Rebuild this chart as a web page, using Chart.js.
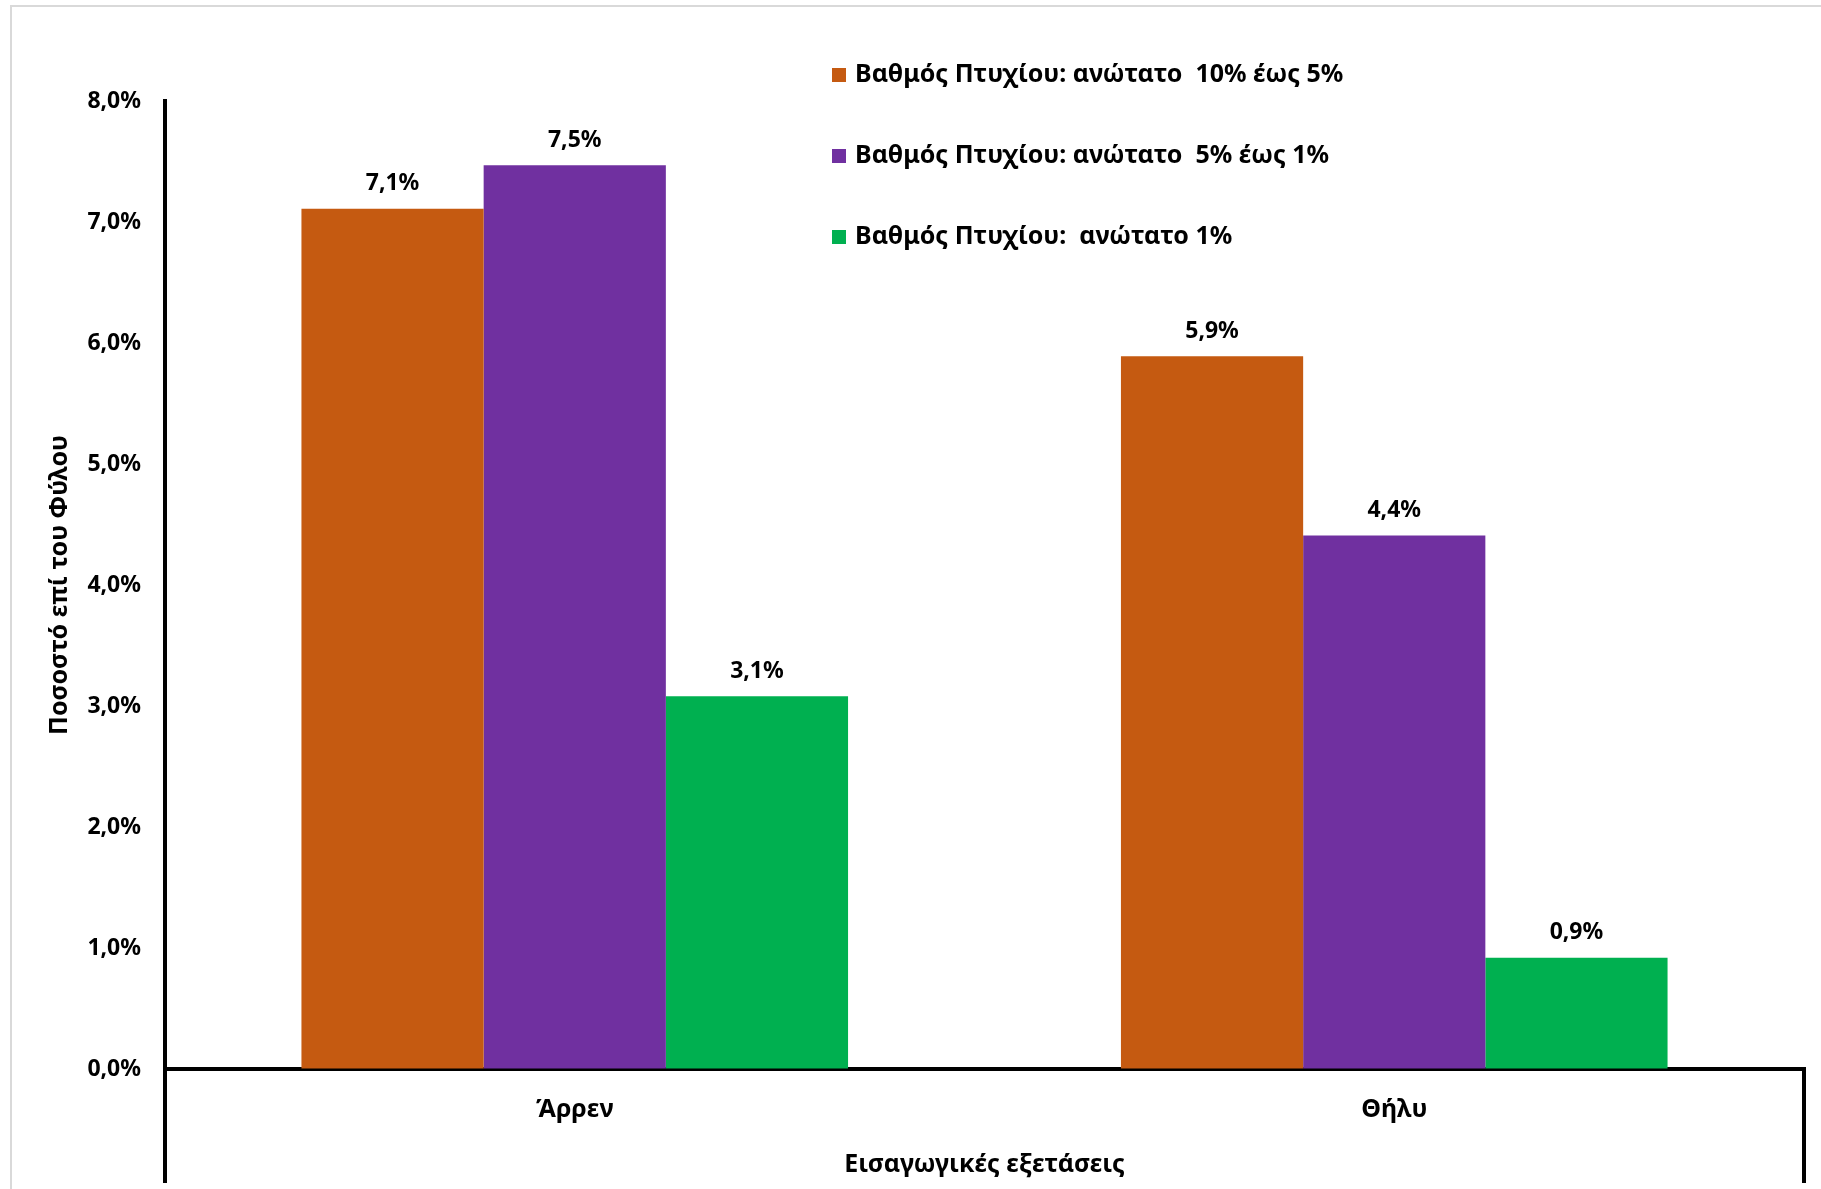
<!DOCTYPE html>
<html>
<head>
<meta charset="utf-8">
<script src="https://cdn.jsdelivr.net/npm/chart.js@4/dist/chart.umd.min.js"></script>
<style>
  html, body { margin: 0; padding: 0; background: #fff; }
  #wrap { width: 1821px; height: 1189px; position: relative; }
</style>
</head>
<body>
<div id="wrap"><canvas id="chart"></canvas></div>
<script>
const categories = ['Άρρεν', 'Θήλυ'];
const seriesNames = [
    'Βαθμός Πτυχίου: ανώτατο  10% έως 5%',
    'Βαθμός Πτυχίου: ανώτατο  5% έως 1%',
    'Βαθμός Πτυχίου:  ανώτατο 1%'
];
const top10to5 = [0.0711, 0.0589];
const top5to1 = [0.0747, 0.0441];
const top1 = [0.0308, 0.0092];
const seriesColors = ['#C55A11', '#7030A0', '#00B050'];

const FONT = '"Noto Sans", "Open Sans", sans-serif';
const pct = v => (v * 100).toFixed(1).replace('.', ',') + '%';

// gray frame round the chart, like the office export
const framePlugin = {
    id: 'frame',
    beforeDraw(chart) {
        const c = chart.ctx;
        c.save();
        c.strokeStyle = '#d9d9d9';
        c.lineWidth = 2;
        c.beginPath();
        c.moveTo(11, chart.height);
        c.lineTo(11, 6);
        c.lineTo(chart.width, 6);
        c.stroke();
        c.restore();
    }
};

// value labels over each bar
const valueLabels = {
    id: 'valueLabels',
    afterDatasetsDraw(chart) {
        const c = chart.ctx;
        c.save();
        c.font = 'bold 23px ' + FONT;
        c.fillStyle = '#000';
        c.textAlign = 'center';
        c.textBaseline = 'middle';
        chart.data.datasets.forEach((ds, i) => {
            chart.getDatasetMeta(i).data.forEach((bar, j) => {
                c.fillText(pct(ds.data[j]), bar.x, bar.y - 25);
            });
        });
        c.restore();
    }
};

// legend stacked vertically inside the plot, plus the category-axis dividers
const sideLegend = {
    id: 'sideLegend',
    afterDraw(chart) {
        const c = chart.ctx;
        const a = chart.chartArea;
        c.save();
        c.font = 'bold 25px ' + FONT;
        c.textBaseline = 'middle';
        c.textAlign = 'left';
        chart.data.datasets.forEach((ds, i) => {
            const y = 75 + i * 81;
            c.fillStyle = ds.backgroundColor;
            c.fillRect(832, y - 7, 14, 14);
            c.fillStyle = '#000';
            c.fillText(ds.label, 855, y);
        });
        c.strokeStyle = '#000';
        c.lineWidth = 4;
        c.beginPath();
        c.moveTo(a.left, a.bottom);
        c.lineTo(a.left, 1183);
        c.moveTo(a.right, a.bottom - 2);
        c.lineTo(a.right, 1183);
        c.stroke();
        c.restore();
    }
};

new Chart(document.getElementById('chart'), {
    type: 'bar',
    data: {
        labels: categories,
        datasets: [
            { label: seriesNames[0], data: top10to5, backgroundColor: seriesColors[0] },
            { label: seriesNames[1], data: top5to1, backgroundColor: seriesColors[1] },
            { label: seriesNames[2], data: top1, backgroundColor: seriesColors[2] }
        ]
    },
    options: {
        responsive: true,
        maintainAspectRatio: false,
        animation: false,
        layout: { padding: { top: 101, right: 17, left: 0, bottom: 0 } },
        datasets: { bar: { categoryPercentage: 0.667, barPercentage: 1 } },
        plugins: {
            legend: { display: false },
            tooltip: { enabled: false }
        },
        scales: {
            y: {
                min: 0,
                max: 0.08,
                afterFit(s) { s.width = 165; },
                grid: { drawOnChartArea: false, drawTicks: false },
                border: { color: '#000', width: 4 },
                ticks: {
                    stepSize: 0.01,
                    padding: 24,
                    color: '#000',
                    font: { family: FONT, size: 23, weight: 'bold' },
                    callback: v => pct(v)
                },
                title: {
                    display: true,
                    text: 'Ποσοστό επί του Φύλου',
                    color: '#000',
                    font: { family: FONT, size: 25, weight: 'bold' },
                    padding: { top: 45, bottom: 0 }
                }
            },
            x: {
                afterFit(s) { s.height = 120; },
                grid: { drawOnChartArea: false, drawTicks: false },
                border: { color: '#000', width: 4 },
                ticks: {
                    padding: 26,
                    color: '#000',
                    font: { family: FONT, size: 25, weight: 'bold' }
                },
                title: {
                    display: true,
                    text: 'Εισαγωγικές εξετάσεις',
                    color: '#000',
                    font: { family: FONT, size: 25, weight: 'bold' },
                    padding: { top: 0, bottom: 9 }
                }
            }
        }
    },
    plugins: [framePlugin, valueLabels, sideLegend]
});
</script>
</body>
</html>
